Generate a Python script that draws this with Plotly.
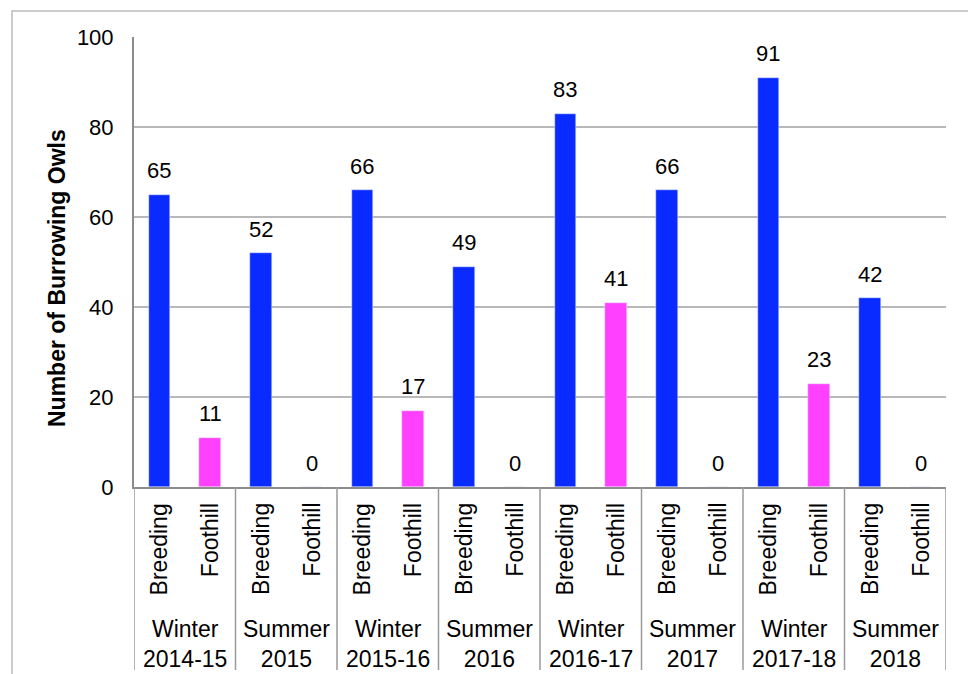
import plotly.graph_objects as go

seasons = ["Winter<br>2014-15", "Summer<br>2015", "Winter<br>2015-16", "Summer<br>2016",
           "Winter<br>2016-17", "Summer<br>2017", "Winter<br>2017-18", "Summer<br>2018"]
sites = ["Breeding", "Foothill"]
breeding = [65, 52, 66, 49, 83, 66, 91, 42]
foothill = [11, 0, 17, 0, 41, 0, 23, 0]
yticks = [0, 20, 40, 60, 80, 100]
ytitle = "Number of Burrowing Owls"

FONT = "Liberation Sans, Arial, sans-serif"
BLUE = "#0A2BFF"
MAGENTA = "#FF40FF"

W, H = 968, 674
L, R, T, B = 134, 22, 37, 187
ph = H - T - B
pw = W - L - R

fig = go.Figure()
bx = [2 * g for g in range(len(seasons))]
fx = [2 * g + 1 for g in range(len(seasons))]
fig.add_trace(go.Bar(x=bx, y=breeding, marker_color=BLUE, width=0.42, showlegend=False))
fig.add_trace(go.Bar(x=fx, y=foothill, marker_color=MAGENTA, width=0.42, showlegend=False))

ann = []
for xs, vals in ((bx, breeding), (fx, foothill)):
    for x, v in zip(xs, vals):
        ann.append(dict(x=x, y=v, xref="x", yref="y", text=str(v), showarrow=False,
                        yanchor="middle", yshift=24, font=dict(size=22, color="black", family=FONT)))

for g, s in enumerate(seasons):
    for j, site in enumerate(sites):
        ann.append(dict(x=2 * g + j, y=-(14 / ph),
                        xref="x", yref="paper", text=site, textangle=-90, showarrow=False,
                        yanchor="top", xanchor="center",
                        font=dict(size=23, color="black", family=FONT)))
    ann.append(dict(x=2 * g + 0.5, y=-(644 - (H - B)) / ph, xref="x", yref="paper", text=s,
                    showarrow=False, yanchor="middle", xanchor="center",
                    font=dict(size=23, color="black", family=FONT)))

ann.append(dict(x=(57 - L) / pw, y=(487 - 278) / ph, xref="paper", yref="paper",
                text="<b>" + ytitle + "</b>",
                textangle=-90, showarrow=False, xanchor="center", yanchor="middle",
                font=dict(size=23, color="black", family=FONT)))

shapes = []
for g in range(len(seasons) + 1):
    shapes.append(dict(type="line", xref="x", yref="paper", x0=2 * g - 0.5, x1=2 * g - 0.5,
                       y0=0, y1=-(670 - (H - B)) / ph, line=dict(color="#9a9a9a", width=1.5)))
shapes.append(dict(type="rect", xref="paper", yref="paper",
                   x0=(12 - L) / pw, x1=(W + 10 - L) / pw,
                   y0=-(H + 10 - (H - B)) / ph, y1=((H - B) - 11) / ph,
                   line=dict(color="#bcbcbc", width=1.5), fillcolor="rgba(0,0,0,0)"))

fig.update_layout(
    width=W, height=H,
    margin=dict(l=L, r=R, t=T, b=B, pad=0),
    paper_bgcolor="white", plot_bgcolor="white",
    bargap=0, barmode="overlay",
    annotations=ann, shapes=shapes,
    font=dict(family=FONT, color="black"),
    xaxis=dict(range=[-0.5, 2 * len(seasons) - 0.5], showticklabels=False, showgrid=False,
               zeroline=False, showline=True, linecolor="#8c8c8c", linewidth=2, ticks=""),
    yaxis=dict(range=[0, 100], tickvals=yticks, showgrid=True, gridcolor="#b8b8b8", gridwidth=2,
               zeroline=False, showline=True, linecolor="#8c8c8c", linewidth=2, ticks="",
               ticklabelstandoff=14, tickfont=dict(size=22, color="black", family=FONT)),
)

fig.write_html("out.html")
